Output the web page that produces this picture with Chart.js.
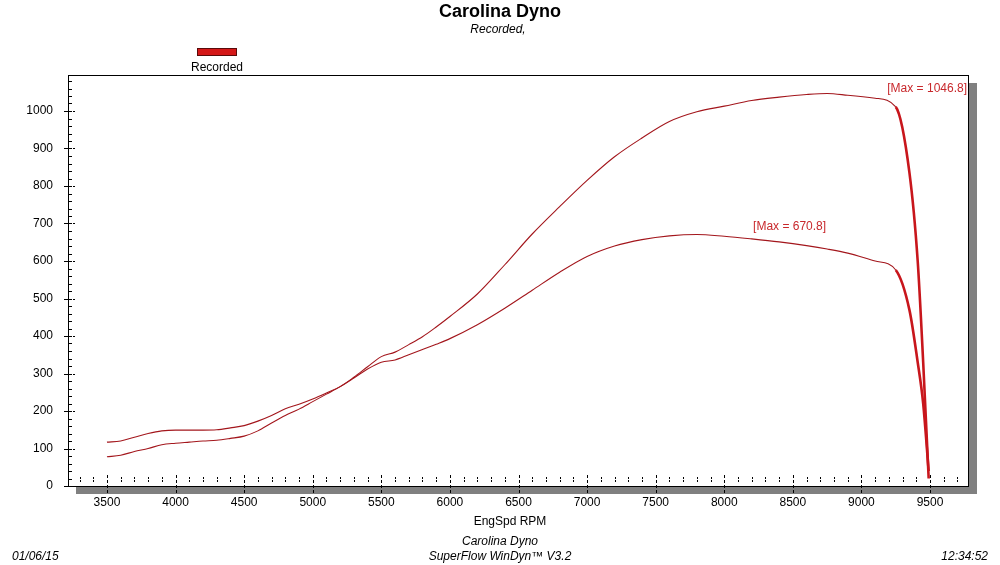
<!DOCTYPE html>
<html>
<head>
<meta charset="utf-8">
<title>Carolina Dyno</title>
<script src="https://cdn.jsdelivr.net/npm/chart.js@4.4.1/dist/chart.umd.min.js"></script>
<style>
  html, body { margin: 0; padding: 0; background: #fff; }
  canvas { display: block; }
</style>
</head>
<body>
<canvas id="dyno" width="1000" height="565"></canvas>
<script>
/* --------------- Data --------------------------------------------- */
const rpm = [3500, 3600, 3700, 3800, 3900, 4000, 4100, 4200, 4300, 4400, 4500, 4600, 4700, 4800, 4900,
  5000, 5100, 5200, 5300, 5400, 5500, 5600, 5700, 5800, 5900, 6000, 6200, 6400, 6600, 6800, 7000,
  7200, 7400, 7600, 7800, 8000, 8200, 8400, 8600, 8750, 8900, 9100, 9250, 9350, 9410, 9450, 9490];

// upper trace (max 1046.8)
const upperVals = [117, 120, 130, 140, 147, 149, 149, 149, 150, 155, 161, 173, 188, 206, 218,
  232, 248, 265, 290, 318, 345, 357, 377, 398, 424, 452, 512, 590, 672, 745, 815,
  878, 928, 972, 998, 1013, 1028, 1037, 1044, 1046.8, 1042, 1034, 1011, 835, 600, 330, 20];

// lower trace (max 670.8)
const lowerVals = [78, 82, 92, 100, 110, 114, 117, 120, 122, 127, 133, 147, 168, 188, 205,
  225, 245, 265, 288, 312, 330, 336, 350, 364, 378, 393, 430, 474, 522, 570, 612,
  640, 657, 667, 670.8, 666, 659, 651, 641, 632, 621, 600, 576, 469, 330, 220, 40];

const xTicks = [3500, 4000, 4500, 5000, 5500, 6000, 6500, 7000, 7500, 8000, 8500, 9000, 9500];
const yTicks = [0, 100, 200, 300, 400, 500, 600, 700, 800, 900, 1000];

const maxLabels = ["[Max = 1046.8]", "[Max = 670.8]"];

/* --------------- Helpers --------------------- */
const FONT = "'Liberation Sans', Arial, sans-serif";
const toPoints = (vals) => vals.map((v, i) => ({ x: rpm[i], y: v }));
const thickEnd = (ctx) => (ctx.p0.parsed.x >= 9250 ? 2.6 : 1.1);
const endColor = (ctx) => (ctx.p0.parsed.x >= 9250 ? "#c8161c" : "#a3161c");

/* --------------- Frame, shadow, minor ticks and sheet text --------------------- */
const sheetPlugin = {
  id: "sheet",
  beforeDatasetsDraw(chart) {
    const { ctx, chartArea: a } = chart;
    ctx.save();
    ctx.fillStyle = "#808080";
    ctx.fillRect(a.right, a.top + 8, 8, a.bottom - a.top);
    ctx.fillRect(a.left + 8, a.bottom, a.right - a.left, 8);
    ctx.restore();
  },
  afterDatasetsDraw(chart) {
    const { ctx, chartArea: a, scales } = chart;
    const xs = scales.x;
    const ys = scales.y;
    ctx.save();

    // frame
    ctx.strokeStyle = "#000";
    ctx.lineWidth = 1;
    ctx.strokeRect(Math.round(a.left) + 0.5, Math.round(a.top) + 0.5,
      Math.round(a.right - a.left) - 1, Math.round(a.bottom - a.top));

    // x ticks
    for (let v = 3300; v <= 9700; v += 100) {
      const px = Math.round(xs.getPixelForValue(v)) + 0.5;
      ctx.beginPath();
      if (v % 500 === 0) {
        ctx.setLineDash([3, 2]);
        ctx.moveTo(px, a.bottom - 11);
        ctx.lineTo(px, a.bottom + 8);
      } else {
        ctx.setLineDash([2, 1]);
        ctx.moveTo(px, a.bottom - 9);
        ctx.lineTo(px, a.bottom - 3);
      }
      ctx.stroke();
    }

    // y ticks
    for (let v = 0; v <= 1080; v += 20) {
      const py = Math.round(ys.getPixelForValue(v)) + 0.5;
      ctx.beginPath();
      if (v % 100 === 0) {
        ctx.setLineDash([]);
        ctx.moveTo(a.left - 4, py);
        ctx.lineTo(a.left + 2, py);
        ctx.stroke();
        ctx.beginPath();
        ctx.setLineDash([2, 1]);
        ctx.moveTo(a.left + 2, py);
        ctx.lineTo(a.left + 8, py);
      } else {
        ctx.setLineDash([]);
        ctx.moveTo(a.left, py);
        ctx.lineTo(a.left + 4, py);
      }
      ctx.stroke();
    }
    ctx.setLineDash([]);

    // max labels
    ctx.fillStyle = "#c8282c";
    ctx.font = "12px " + FONT;
    ctx.textBaseline = "middle";
    ctx.textAlign = "right";
    ctx.fillText(maxLabels[0], a.right - 2, ys.getPixelForValue(1059));
    ctx.textAlign = "left";
    ctx.fillText(maxLabels[1], xs.getPixelForValue(8210), ys.getPixelForValue(691));

    // header
    ctx.fillStyle = "#000";
    ctx.textAlign = "center";
    ctx.font = "bold 18px " + FONT;
    ctx.fillText("Carolina Dyno", 500, 12);
    ctx.font = "italic 12px " + FONT;
    ctx.fillText("Recorded,", 498, 30);

    // legend
    ctx.fillStyle = "#d41818";
    ctx.fillRect(197, 49, 39, 6);
    ctx.strokeStyle = "#5a0a0a";
    ctx.strokeRect(197.5, 48.5, 39, 7);
    ctx.fillStyle = "#000";
    ctx.font = "12px " + FONT;
    ctx.fillText("Recorded", 217, 68);

    // footer
    ctx.fillText("EngSpd RPM", 510, 522);
    ctx.font = "italic 12px " + FONT;
    ctx.fillText("Carolina Dyno", 500, 542);
    ctx.fillText("SuperFlow WinDyn\u2122 V3.2", 500, 557);
    ctx.textAlign = "left";
    ctx.fillText("01/06/15", 12, 557);
    ctx.textAlign = "right";
    ctx.fillText("12:34:52", 988, 557);
    ctx.restore();
  },
};

/* --------------- Chart --------------------- */
const dynoChart = new Chart(document.getElementById("dyno"), {
  type: "line",
  plugins: [sheetPlugin],
  data: {
    datasets: [
      {
        label: "Recorded",
        data: toPoints(upperVals),
        borderColor: "#a3161c",
        borderWidth: 1.1,
        pointRadius: 0,
        cubicInterpolationMode: "monotone",
        segment: { borderWidth: thickEnd, borderColor: endColor },
      },
      {
        label: "Recorded",
        data: toPoints(lowerVals),
        borderColor: "#a3161c",
        borderWidth: 1.1,
        pointRadius: 0,
        cubicInterpolationMode: "monotone",
        segment: { borderWidth: thickEnd, borderColor: endColor },
      },
    ],
  },
  options: {
    responsive: false,
    animation: false,
    layout: { padding: { top: 75, right: 31, left: 0, bottom: 0 } },
    plugins: {
      legend: { display: false },
      tooltip: { enabled: false },
    },
    scales: {
      x: {
        type: "linear",
        min: 3216,
        max: 9784,
        grid: { display: false },
        border: { display: false },
        afterBuildTicks: (scale) => {
          scale.ticks = xTicks.map((v) => ({ value: v }));
        },
        afterFit: (scale) => {
          scale.height = 79;
        },
        ticks: {
          color: "#000",
          padding: 1,
          maxRotation: 0,
          font: { family: FONT, size: 12 },
          callback: (v) => String(v),
        },
      },
      y: {
        type: "linear",
        min: 0,
        max: 1096,
        grid: { display: false },
        border: { display: false },
        afterBuildTicks: (scale) => {
          scale.ticks = yTicks.map((v) => ({ value: v }));
        },
        afterFit: (scale) => {
          scale.width = 68;
        },
        ticks: {
          color: "#000",
          padding: 7,
          font: { family: FONT, size: 12 },
          callback: (v) => String(v),
        },
      },
    },
  },
});
</script>
</body>
</html>
